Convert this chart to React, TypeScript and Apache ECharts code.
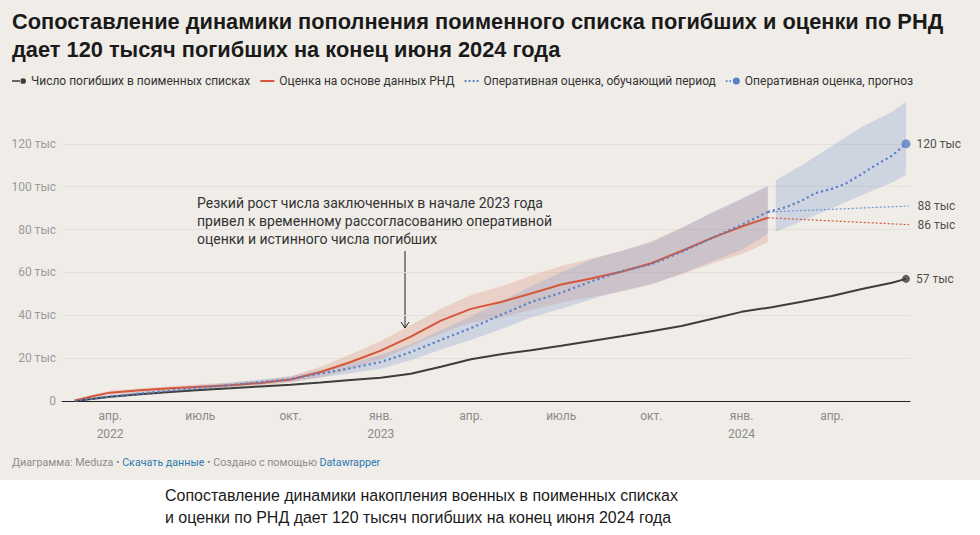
import React, { useEffect, useRef } from 'react';
import * as echarts from 'echarts';

// все значения в тысячах погибших
const listDates = [
  '2022-02-24', '2022-03-15', '2022-04-01', '2022-05-01', '2022-06-01', '2022-07-01',
  '2022-08-01', '2022-09-01', '2022-10-01', '2022-11-01', '2022-12-01',
  '2023-01-01', '2023-02-01', '2023-03-01', '2023-04-01', '2023-05-01', '2023-06-01',
  '2023-07-01', '2023-08-01', '2023-09-01', '2023-10-01', '2023-11-01', '2023-12-01',
  '2024-01-01', '2024-02-01', '2024-03-01', '2024-04-01', '2024-05-01', '2024-06-01', '2024-06-15',
];
const listValues = [
  0, 1.0, 2.0, 3.1, 4.2, 5.1, 5.9, 6.8, 7.6, 8.6, 9.8,
  10.9, 12.7, 16.0, 19.5, 21.8, 23.7, 25.8, 28.0, 30.2, 32.6, 35.0, 38.3,
  41.6, 43.8, 46.3, 49.0, 52.3, 55.2, 57.0,
];

// общий период для оценки по РНД и обучающего периода оперативной оценки
const estDates = [
  '2022-02-24', '2022-03-15', '2022-04-01', '2022-05-01', '2022-06-01', '2022-07-01',
  '2022-08-01', '2022-09-01', '2022-10-01', '2022-11-01', '2022-12-01',
  '2023-01-01', '2023-02-01', '2023-03-01', '2023-04-01', '2023-05-01', '2023-06-01',
  '2023-07-01', '2023-08-01', '2023-09-01', '2023-10-01', '2023-11-01', '2023-12-01',
  '2024-01-01', '2024-01-28',
];
const rndValues = [
  0.3, 2.3, 3.9, 5.0, 5.9, 6.7, 7.4, 8.4, 10.0, 13.5, 18.2,
  23.5, 30.0, 37.5, 43.0, 46.2, 50.2, 54.4, 57.2, 60.3, 64.3, 70.0, 76.0,
  81.4, 85.5,
];
const rndLow = [
  0, 1.5, 2.9, 4.0, 4.9, 5.6, 6.3, 7.2, 8.6, 11.0, 14.8,
  19.5, 25.5, 31.5, 36.5, 39.0, 42.5, 46.0, 48.5, 51.0, 54.5, 59.0, 64.0,
  68.5, 74.0,
];
const rndHigh = [
  0.6, 3.0, 4.9, 6.0, 6.9, 7.8, 8.6, 9.7, 11.6, 16.0, 21.8,
  28.0, 35.5, 43.0, 49.5, 53.5, 58.5, 63.0, 66.5, 70.0, 74.5, 81.0, 87.5,
  94.0, 100.0,
];
const opValues = [
  0.2, 1.2, 2.0, 3.5, 4.8, 6.2, 7.5, 8.8, 10.2, 12.8, 15.3,
  18.2, 22.8, 28.5, 34.0, 40.2, 46.2, 50.5, 55.8, 60.5, 63.8, 69.5, 76.0,
  82.2, 88.2,
];
const opLow = [
  0, 0.8, 1.4, 2.8, 4.0, 5.3, 6.5, 7.7, 8.9, 11.0, 13.0,
  15.0, 19.0, 24.0, 28.5, 33.5, 39.0, 43.0, 47.5, 51.5, 54.5, 59.5, 65.0,
  70.5, 78.0,
];
const opHigh = [
  0.4, 1.7, 2.7, 4.3, 5.7, 7.2, 8.6, 10.0, 11.6, 14.6, 17.6,
  21.5, 26.5, 33.0, 39.5, 46.5, 53.5, 60.0, 66.0, 70.0, 74.0, 80.5, 88.0,
  94.5, 100.5,
];

// прогноз оперативной оценки
const fcDates = [
  '2024-01-28', '2024-02-15', '2024-03-01', '2024-03-15', '2024-04-01',
  '2024-04-15', '2024-05-01', '2024-05-15', '2024-06-01', '2024-06-15',
];
const fcValues = [88.2, 90.5, 93.5, 97.0, 99.0, 101.5, 106.0, 110.0, 114.5, 120.0];
const fcBandDates = ['2024-02-05', '2024-03-01', '2024-04-01', '2024-05-01', '2024-06-01', '2024-06-15'];
const fcLow = [79, 84, 90, 96, 102, 105.5];
const fcHigh = [103, 110, 119, 128, 135, 139.5];

// тонкие продолжения после конца обучающего периода
const tailDates = ['2024-01-28', '2024-06-18'];
const opTail = [88.2, 91.0];
const rndTail = [85.5, 82.3];

const xTickMonths = [3, 6, 9, 12, 15, 18, 21, 24, 27];
const xTickLabels = ['апр.\n2022', 'июль', 'окт.', 'янв.\n2023', 'апр.', 'июль', 'окт.', 'янв.\n2024', 'апр.'];
const yTicks = [0, 20, 40, 60, 80, 100, 120];

const FONT = 'Roboto, sans-serif';
const RED = '#d4573b';
const BLUE = '#5a80c8';
const DARK = '#3d3d3d';

// месяцы от января 2022
const toMonth = (d: string) => {
  const [y, m, day] = d.split('-').map(Number);
  const dim = new Date(y, m, 0).getDate();
  return (y - 2022) * 12 + (m - 1) + (day - 1) / dim;
};
const pairs = (dates: string[], values: number[]) => dates.map((d, i) => [toMonth(d), values[i]]);

const band = (dates: string[], low: number[], high: number[], color: string) => ({
  type: 'custom',
  silent: true,
  z: 1,
  data: dates.map((d, i) => [toMonth(d), low[i], high[i]]),
  encode: { x: 0, y: [1, 2] },
  renderItem: (params: any, api: any) => {
    if (params.dataIndex !== 0) return null;
    const top = dates.map((d, i) => api.coord([toMonth(d), high[i]]));
    const bottom = dates.map((d, i) => api.coord([toMonth(d), low[i]])).reverse();
    return { type: 'polygon', shape: { points: top.concat(bottom) }, style: { fill: color } };
  },
});

const endPoint = (date: string, value: number, text: string, color: string, size: number, distance: number) => ({
  value: [toMonth(date), value],
  symbolSize: size,
  itemStyle: { color },
  label: { show: true, position: 'right', distance, formatter: text, color: '#222', fontSize: 12, fontFamily: FONT },
});

// значки легенды
const ICON_LIST = 'path://M0,3h11v2h-11z M10,4a3.5,3.5 0 1 0 7,0a3.5,3.5 0 1 0 -7,0z';
const ICON_LINE = 'path://M0,0h14v2h-14z';
const ICON_DOTS = 'path://M0,0h2.2v2.2h-2.2z M4.6,0h2.2v2.2h-2.2z M9.2,0h2.2v2.2h-2.2z M13.8,0h2.2v2.2h-2.2z';
const ICON_FC = 'path://M0,3h2v2h-2z M4,3h2v2h-2z M8,4a4,4 0 1 0 8,0a4,4 0 1 0 -8,0z';

const App = () => {
  const chartRef = useRef(null);

  useEffect(() => {
    document.body.style.margin = '0';
    const chart = echarts.init(chartRef.current, null, { renderer: 'svg' });

    chart.setOption({
      animation: false,
      backgroundColor: '#fff',
      grid: { left: 62, right: 70, top: 101, bottom: 134 },
      legend: {
        left: 12,
        top: 75,
        padding: 0,
        itemGap: 10,
        itemWidth: 14,
        itemHeight: 8,
        textStyle: { color: '#333', fontSize: 12, fontFamily: FONT },
        data: [
          { name: 'Число погибших в поименных списках', icon: ICON_LIST },
          { name: 'Оценка на основе данных РНД', icon: ICON_LINE },
          { name: 'Оперативная оценка, обучающий период', icon: ICON_DOTS },
          { name: 'Оперативная оценка, прогноз', icon: ICON_FC },
        ],
      },
      xAxis: {
        type: 'value',
        min: 1.4,
        max: 29.6,
        axisLine: { show: true, lineStyle: { color: '#222', width: 1 } },
        axisTick: { show: false },
        splitLine: { show: false },
        axisLabel: {
          customValues: xTickMonths,
          formatter: (v: number) => xTickLabels[xTickMonths.indexOf(v)] ?? '',
          color: '#8a8a8a',
          fontSize: 12,
          lineHeight: 18,
          margin: 6,
          fontFamily: FONT,
        },
      },
      yAxis: {
        type: 'value',
        min: 0,
        max: 140,
        axisLine: { show: false },
        axisTick: { show: false, customValues: yTicks },
        axisLabel: {
          customValues: yTicks,
          formatter: (v: number) => (v === 0 ? '0' : `${v} тыс`),
          color: '#9a9a9a',
          fontSize: 12,
          margin: 6,
          fontFamily: FONT,
        },
        splitLine: { show: true, lineStyle: { color: '#e3e0da', width: 1 } },
      },
      series: [
        band(estDates, rndLow, rndHigh, 'rgba(217,133,106,0.26)'),
        band(estDates, opLow, opHigh, 'rgba(138,163,207,0.32)'),
        band(fcBandDates, fcLow, fcHigh, 'rgba(138,163,207,0.32)'),
        {
          type: 'line',
          name: 'Число погибших в поименных списках',
          data: pairs(listDates, listValues),
          symbol: 'none',
          itemStyle: { color: DARK },
          lineStyle: { color: DARK, width: 2 },
          z: 3,
        },
        {
          type: 'line',
          name: 'Оценка на основе данных РНД',
          data: pairs(estDates, rndValues),
          symbol: 'none',
          itemStyle: { color: RED },
          lineStyle: { color: RED, width: 2 },
          z: 3,
        },
        {
          type: 'line',
          name: 'Оперативная оценка, обучающий период',
          data: pairs(estDates, opValues),
          symbol: 'none',
          itemStyle: { color: BLUE },
          lineStyle: { color: BLUE, width: 2.2, type: [2.2, 3] },
          z: 4,
        },
        {
          type: 'line',
          name: 'Оперативная оценка, прогноз',
          data: pairs(fcDates, fcValues),
          symbol: 'none',
          itemStyle: { color: BLUE },
          lineStyle: { color: BLUE, width: 2.2, type: [2.2, 3] },
          z: 4,
        },
        {
          type: 'line',
          name: 'op-tail',
          data: pairs(tailDates, opTail),
          symbol: 'none',
          lineStyle: { color: '#6d92d8', width: 1.2, type: [2, 2] },
          z: 3,
        },
        {
          type: 'line',
          name: 'rnd-tail',
          data: pairs(tailDates, rndTail),
          symbol: 'none',
          lineStyle: { color: RED, width: 1.2, type: [2, 2] },
          z: 3,
        },
        {
          type: 'scatter',
          silent: true,
          z: 5,
          data: [
            endPoint(listDates[listDates.length - 1], listValues[listValues.length - 1],
              `${Math.round(listValues[listValues.length - 1])} тыс`, DARK, 8, 6),
            endPoint(fcDates[fcDates.length - 1], fcValues[fcValues.length - 1],
              `${Math.round(fcValues[fcValues.length - 1])} тыс`, BLUE, 9, 6),
            endPoint(tailDates[1], opTail[1], `${Math.round(opTail[0])} тыс`, 'rgba(0,0,0,0)', 1, 8),
            endPoint(tailDates[1], rndTail[1], `${Math.round(rndTail[0])} тыс`, 'rgba(0,0,0,0)', 1, 8),
          ],
        },
      ],
      graphic: [
        {
          type: 'rect',
          z: -10,
          silent: true,
          shape: { x: 0, y: 0, width: 980, height: 480 },
          style: { fill: '#f0ede8' },
        },
        {
          type: 'text',
          left: 12,
          top: 7,
          style: {
            text: 'Сопоставление динамики пополнения поименного списка погибших и оценки по РНД\nдает 120 тысяч погибших на конец июня 2024 года',
            font: `bold 21.8px 'Liberation Sans', Arial, sans-serif`,
            fill: '#1a1a1a',
            lineHeight: 28,
          },
        },
        {
          type: 'text',
          left: 197,
          top: 194,
          style: {
            text: 'Резкий рост числа заключенных в начале 2023 года\nпривел к временному рассогласованию оперативной\nоценки и истинного числа погибших',
            font: `14px ${FONT}`,
            fill: '#333',
            lineHeight: 18,
          },
        },
        { type: 'line', shape: { x1: 405, y1: 251, x2: 405, y2: 328 }, style: { stroke: '#222', lineWidth: 1 } },
        {
          type: 'polyline',
          shape: { points: [[401, 322], [405, 328], [409, 322]] },
          style: { stroke: '#222', lineWidth: 1, fill: null },
        },
        {
          type: 'text',
          left: 12,
          top: 457,
          style: {
            text: '{g|Диаграмма: Meduza • }{b|Скачать данные}{g| • Создано с помощью }{b|Datawrapper}',
            font: `10.7px ${FONT}`,
            rich: {
              g: { fill: '#8c8c8c', fontSize: 10.7, fontFamily: FONT },
              b: { fill: '#2a7ab0', fontSize: 10.7, fontFamily: FONT },
            },
          },
        },
        {
          type: 'text',
          x: 165,
          y: 484,
          scaleX: 0.94,
          style: {
            text: 'Сопоставление динамики накопления военных в поименных списках\nи оценки по РНД дает 120 тысяч погибших на конец июня 2024 года',
            font: `17px 'Liberation Sans', Arial, sans-serif`,
            fill: '#1a1a1a',
            lineHeight: 22,
          },
        },
      ],
    });

    return () => {
      chart.dispose();
    };
  }, []);

  return <div ref={chartRef} style={{ width: '980px', height: '535px' }} />;
};

export default App;
